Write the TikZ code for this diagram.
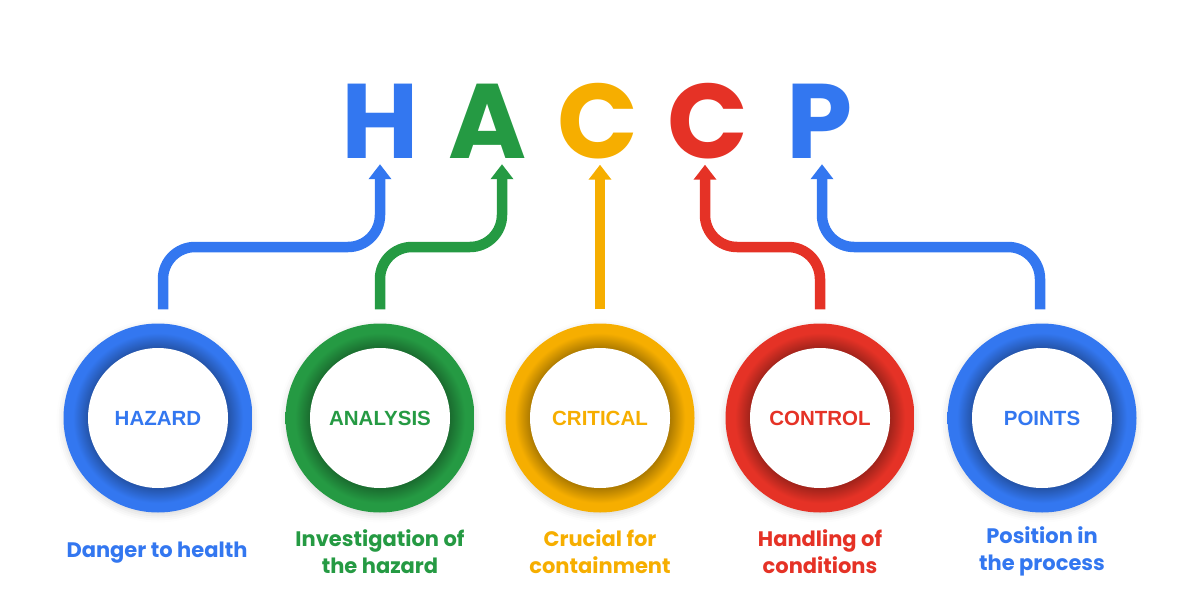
\documentclass[tikz,border=0pt]{standalone}
\usepackage{fontspec}
\setmainfont{Poppins}
\newfontfamily\labelfont{Liberation Sans}
\usetikzlibrary{arrows.meta,positioning,shadows.blur}

\definecolor{hblue}{HTML}{3377F0}
\definecolor{agreen}{HTML}{259A43}
\definecolor{cyellow}{HTML}{F6AE00}
\definecolor{cred}{HTML}{E53226}
\colorlet{ringbase}{hblue}
\colorlet{ringdark}{hblue}

% ring: darker towards the white centre (path edge = 25bp)
\pgfdeclareradialshading[ringbase,ringdark]{ringshade}{\pgfpoint{0cm}{0cm}}{%
  color(0bp)=(ringdark);color(18.5bp)=(ringdark);color(22.5bp)=(ringbase);color(25bp)=(ringbase);color(50bp)=(ringbase)}

\tikzset{
  letter/.style={font=\bfseries\fontsize{106}{106}\selectfont, inner sep=0pt, anchor=base, text=#1},
  ring/.style={circle, inner sep=0pt, minimum size=189pt, shading=ringshade,
    /utils/exec={\colorlet{ringbase}{#1}\colorlet{ringdark}{#1!70!black}},
    blur shadow={shadow xshift=0pt, shadow yshift=-3pt, shadow blur radius=7pt, shadow opacity=15}},
  disc/.style={circle, fill=white, inner sep=0pt, minimum size=140pt, text=#1,
    font=\labelfont\bfseries\fontsize{20.5}{20.5}\selectfont},
  note/.style={align=center, anchor=base, text=#1, font=\bfseries\fontsize{21}{26.5}\selectfont},
  link/.style={draw=#1, line width=10.5pt, rounded corners=32pt,
    -{Triangle[width=22pt,length=15pt]}, shorten >=6pt},
}

\begin{document}
\begin{tikzpicture}[x=1pt,y=-1pt]
\useasboundingbox (0,0) rectangle (1192,608);

% the five letters
\node[letter=hblue] (H) at (380,158) {H};
\node[letter=agreen] (A) at (488,158) {A};
\node[letter=cyellow] (C1) at (598,158) {C};
\node[letter=cred] (C2) at (708,158) {C};
\node[letter=hblue] (P) at (820,158) {P};

% rings
\node[ring=hblue] (hazard) at (158,418) {};
\node[ring=agreen] (analysis) at (380,418) {};
\node[ring=cyellow] (critical) at (600,418) {};
\node[ring=cred] (control) at (820,418) {};
\node[ring=hblue] (points) at (1042,418) {};

\node[disc=hblue] (hazardtxt) at (hazard) {HAZARD};
\node[disc=agreen] (analysistxt) at (analysis) {ANALYSIS};
\node[disc=cyellow] (criticaltxt) at (critical) {CRITICAL};
\node[disc=cred] (controltxt) at (control) {CONTROL};
\node[disc=hblue] (pointstxt) at (points) {POINTS};

% captions (anchored at the last baseline)
\node[note=hblue] (hazardnote) at (157,557) {Danger to health};
\node[note=agreen] (analysisnote) at (380,573) {Investigation of\\the hazard};
\node[note=cyellow] (criticalnote) at (600,573) {Crucial for\\containment};
\node[note=cred] (controlnote) at (820,573) {Handling of\\conditions};
\node[note=hblue] (pointsnote) at (1042,570) {Position in\\the process};

% connectors
\coordinate (lvl) at (0,247);
\coordinate (tipH) at ([xshift=0pt]H.south);
\coordinate (tipA) at ([xshift=14pt]A.south);
\coordinate (tipC) at ([xshift=2pt]C1.south);
\coordinate (tipCC) at ([xshift=-3pt]C2.south);
\coordinate (tipP) at ([xshift=2pt]P.south);
\coordinate (footH) at ([xshift=5pt,yshift=14pt]hazard.north);
\coordinate (footA) at ([yshift=14pt]analysis.north);
\coordinate (footC) at ([yshift=14pt]critical.north);
\coordinate (footCC) at ([yshift=14pt]control.north);
\coordinate (footP) at ([xshift=-2pt,yshift=14pt]points.north);

\draw[link=hblue] (footH) |- (tipH |- lvl) -- (tipH);
\draw[link=agreen] (footA) |- (tipA |- lvl) -- (tipA);
\draw[link=cyellow] (footC) -- (tipC);
\draw[link=cred] (footCC) |- (tipCC |- lvl) -- (tipCC);
\draw[link=hblue] (footP) |- (tipP |- lvl) -- (tipP);
\end{tikzpicture}
\end{document}
